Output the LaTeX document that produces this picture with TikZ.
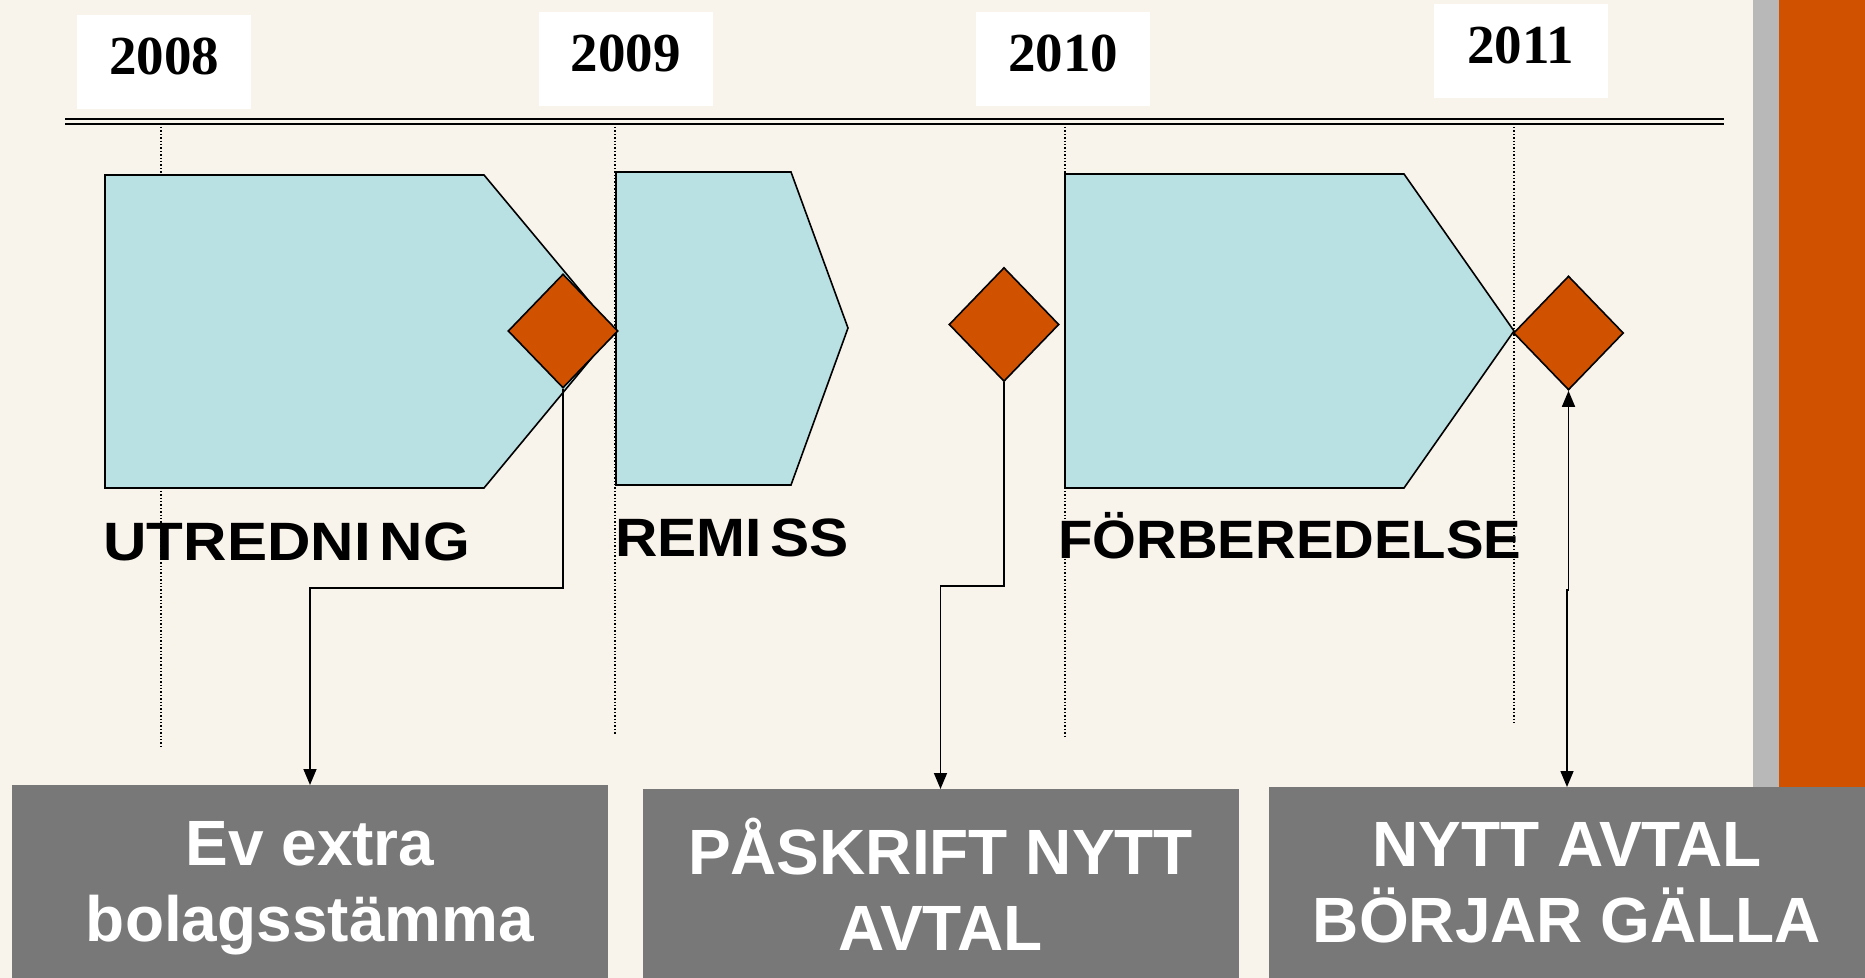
\documentclass[tikz,border=0pt]{standalone}
\usepackage{fontspec}
\setmainfont{Liberation Serif}
\newfontfamily\slidefont{Liberation Sans}
\usetikzlibrary{shapes.geometric,arrows.meta}
\definecolor{cream}{HTML}{F8F4EC}
\definecolor{phaseblue}{HTML}{B9E0E2}
\definecolor{msorange}{HTML}{D05200}
\definecolor{notegrey}{HTML}{787878}
\definecolor{stripegrey}{HTML}{B8B8B8}

\begin{document}
\begin{tikzpicture}[x=0.5pt,y=-0.5pt,>={Triangle[length=8pt,width=6.5pt]},
    phase/.style={draw,line width=0.8pt,fill=phaseblue},
    milestone/.style={diamond,draw,line width=0.8pt,fill=msorange,inner sep=0pt,
      minimum width=55pt,minimum height=57pt},
    yearbox/.style={fill=white,minimum width=87pt,minimum height=47pt,text depth=5.5pt,
      font=\bfseries\fontsize{27.5}{30}\selectfont},
    phaselabel/.style={anchor=base west,inner sep=0pt,
      font=\slidefont\bfseries\fontsize{27}{30}\selectfont},
    notebox/.style={fill=notegrey,text=white,align=center,anchor=north,minimum width=298pt,
      text depth=0pt,font=\slidefont\bfseries\fontsize{32}{38}\selectfont},
    conn/.style={line width=0.8pt,->},
    yearline/.style={line width=0.7pt,dash pattern=on 0.7pt off 1pt}]
    \useasboundingbox (0,0) rectangle (1865,978);
    \fill[cream] (0,0) rectangle (1753,978);
    \fill[stripegrey] (1753,0) rectangle (1779,978);
    \fill[msorange] (1779,0) rectangle (1865,978);
    %
    \draw[double=cream,double distance=1.2pt,line width=1.3pt] (65,121.5) -- (1724,121.5); %Axis
    \foreach \x/\y/\yr in {164/62/2008,625.5/59/2009,1063/59/2010,1520.5/51/2011} {
      \node[yearbox] (y\yr) at (\x,\y) {\yr};
    }
    \foreach \x/\y in {161/746,615/734,1065/737,1514/724} {
      \draw[yearline] (\x,127) -- (\x,\y);
    }
    %
    \draw[phase] (105,175) -- (484,175) -- (614,331) -- (484,488) -- (105,488) -- cycle;
    \draw[phase] (616,172) -- (791,172) -- (848,328) -- (791,485) -- (616,485) -- cycle;
    \draw[phase] (1065,174) -- (1404,174) -- (1514,331) -- (1404,488) -- (1065,488) -- cycle;
    \node[phaselabel] (utr) at (103,561) {\scalebox{1.114}[1]{UTREDNI\kern4pt NG}};
    \node[phaselabel] (rem) at (615,557) {\scalebox{1.087}[1]{REMI\kern4pt SS}};
    \node[phaselabel] (forb) at (1058,559) {\scalebox{1.043}[1]{FÖRBEREDELSE}};
    %
    \node[milestone] (m1) at (563,331) {};
    \node[milestone] (m2) at (1004,324.5) {};
    \node[milestone] (m3) at (1568.5,333) {};
    %
    \node[notebox,minimum height=96.5pt] (b1) at (310,785) {Ev extra\\bolagsstämma};
    \node[notebox,minimum height=94.5pt] (b2) at (940.5,789) {PÅSKRIFT NYTT\\AVTAL};
    \node[notebox,minimum height=95.5pt] (b3) at (1567,787) {NYTT AVTAL\\BÖRJAR GÄLLA};
    %
    \draw[conn] (m1.south) -- ++(0,199) -| (b1.north);
    \draw[conn] (m2.south) -- ++(0,204) -| (b2.north);
    \draw[conn,<->] (b3.north) -- ++(0,-197) -| (m3.south);
  \end{tikzpicture}
\end{document}
